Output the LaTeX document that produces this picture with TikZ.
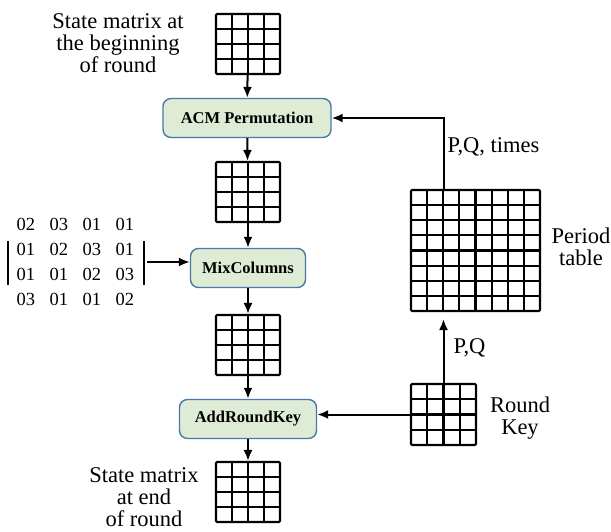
\documentclass[tikz,border=0pt]{standalone}
\usepackage{fontspec}
\setmainfont{Liberation Serif}
\usetikzlibrary{calc,arrows.meta,matrix}
\definecolor{stepfill}{RGB}{222,236,214}
\definecolor{stepline}{RGB}{72,122,168}
\tikzset{
  gridlines/.style={path picture={
    \foreach \f in {#1}{
      \draw[line width=2.1pt]
        ($(path picture bounding box.north west)!\f!(path picture bounding box.north east)$) --
        ($(path picture bounding box.south west)!\f!(path picture bounding box.south east)$);
      \draw[line width=2.1pt]
        ($(path picture bounding box.north west)!\f!(path picture bounding box.south west)$) --
        ($(path picture bounding box.north east)!\f!(path picture bounding box.south east)$);
    }}},
  statebox/.style={draw, line width=2.1pt, rounded corners=1pt, inner sep=0pt,
    minimum width=64pt, minimum height=60pt, gridlines={0.25,0.5,0.75}},
  periodbox/.style={draw, line width=2.1pt, rounded corners=1pt, inner sep=0pt,
    minimum width=129pt, minimum height=121pt,
    gridlines={0.125,0.25,0.375,0.5,0.625,0.75,0.875}},
  opbox/.style={draw=stepline, fill=stepfill, line width=1.4pt, rounded corners=8pt,
    minimum height=39pt, inner sep=0pt, font=\fontsize{16.5}{18}\selectfont\bfseries},
  lbl/.style={align=center, inner sep=0pt, font=\fontsize{22.5}{22}\selectfont},
  arr/.style={-{Latex[length=11pt,width=9pt]}, line width=2pt},
}
\begin{document}
\begin{tikzpicture}[x=1pt,y=-1pt]
  \useasboundingbox (0,0) rectangle (611,531);

  % state matrices down the middle
  \node[statebox] (s1) at (248,44)  {};
  \node[statebox] (s2) at (248,192) {};
  \node[statebox] (s3) at (248,345) {};
  \node[statebox] (s4) at (248,492) {};

  % round steps
  \node[opbox, minimum width=168pt] (acm) at (247,118) {ACM Permutation};
  \node[opbox, minimum width=115pt] (mix) at (248,268) {MixColumns};
  \node[opbox, minimum width=137pt] (ark) at (248,419) {AddRoundKey};

  % period table and round key
  \node[periodbox] (period) at (475.5,250.5) {};
  \node[statebox, minimum width=65pt, minimum height=61pt] (rkey) at (443.5,414.5) {};

  % labels
  \node[lbl] (lstart) at (118,43) {State matrix at\\the beginning\\of round};
  \node[lbl] (lend) at (144,497) {State matrix\\at end\\of round};
  \node[lbl] (lperiod) at (581,247) {Period\\table};
  \node[lbl] (lkey) at (520,418) {Round\\Key};

  % mixcolumns matrix
  \matrix (mc) [matrix of nodes, column sep=0pt, row sep=0pt,
    nodes={minimum width=33pt, minimum height=25pt, inner sep=0pt,
           font=\fontsize{18.5}{20}\selectfont}] at (75.5,262) {
    02 & 03 & 01 & 01 \\
    01 & 02 & 03 & 01 \\
    01 & 01 & 02 & 03 \\
    03 & 01 & 01 & 02 \\
  };
  \draw[line width=2pt] ([shift={(-1,4)}]mc-2-1.north west) -- ([shift={(-1,-2)}]mc-3-1.south west);
  \draw[line width=2pt] ([shift={(2,4)}]mc-2-4.north east) -- ([shift={(2,-2)}]mc-3-4.south east);
  \coordinate (mcbar) at ([xshift=2]mc.east);

  % connectors
  \draw[arr] (s1) -- (acm);
  \draw[arr] (acm) -- (s2);
  \draw[arr] (s2) -- (mix);
  \draw[arr] (mix) -- (s3);
  \draw[arr] (s3) -- (ark);
  \draw[arr] (ark) -- (s4);
  \draw[arr] (mcbar) -- (mcbar -| mix.west);
  \draw[arr] (rkey.west) -- (rkey.west -| ark.east);
  \draw[arr, shorten >=7pt] (rkey.north) -- node[right, lbl, xshift=9pt] {P,Q} (rkey.north |- period.south);
  \draw[arr] (rkey.north |- period.north) |- node[pos=0.3, right, lbl, xshift=3pt] {P,Q, times} (acm.east);
\end{tikzpicture}
\end{document}
